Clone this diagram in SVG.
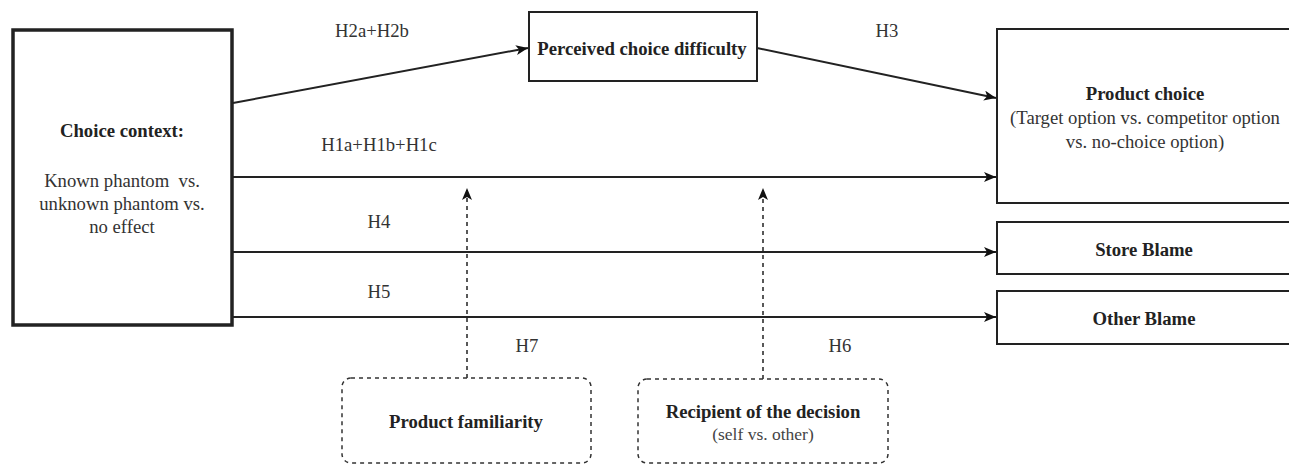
<svg xmlns="http://www.w3.org/2000/svg" width="1289" height="465" viewBox="0 0 1289 465">
<style>
  .box{fill:#fff;stroke:#222;stroke-width:2}
  .thick{fill:#fff;stroke:#222;stroke-width:3.5}
  .dbox{fill:#fff;stroke:#333;stroke-width:1.5;stroke-dasharray:4 4}
  text{font-family:'Liberation Serif',Tinos,'Times New Roman',Times,serif;font-size:18.7px;fill:#333;text-anchor:middle}
  .b{font-weight:bold;fill:#222}
  .s{font-size:17.5px;fill:#444}
  .edge{stroke:#222;stroke-width:2;fill:none}
  .dash{stroke:#222;stroke-width:1.5;fill:none;stroke-dasharray:4 4}
</style>
<defs>
  <marker id="arr" markerUnits="userSpaceOnUse" markerWidth="14" markerHeight="12" refX="12" refY="5" orient="auto">
    <path d="M0,0 L12,5 L0,10 L3,5 z" fill="#111"/>
  </marker>
</defs>
<rect width="1289" height="465" fill="#fff"/>
<g id="connectors">
  <line class="edge" x1="233" y1="103" x2="528" y2="48" marker-end="url(#arr)"/>
  <line class="edge" x1="757" y1="48" x2="996" y2="98" marker-end="url(#arr)"/>
  <line class="edge" x1="233" y1="177" x2="996" y2="177" marker-end="url(#arr)"/>
  <line class="edge" x1="233" y1="252" x2="996" y2="252" marker-end="url(#arr)"/>
  <line class="edge" x1="233" y1="317" x2="996" y2="317" marker-end="url(#arr)"/>
  <line class="dash" x1="467" y1="378" x2="467" y2="188" marker-end="url(#arr)"/>
  <line class="dash" x1="763" y1="379" x2="763" y2="188" marker-end="url(#arr)"/>
  <text x="372" y="37">H2a+H2b</text>
  <text x="887" y="37">H3</text>
  <text x="379" y="151">H1a+H1b+H1c</text>
  <text x="379" y="228">H4</text>
  <text x="379" y="298">H5</text>
  <text x="527" y="352">H7</text>
  <text x="840" y="352">H6</text>
</g>
<g id="choice-context">
  <rect class="thick" x="13" y="30" width="219" height="295"/>
  <text class="b" x="122" y="137">Choice context:</text>
  <text x="122" y="187" xml:space="preserve">Known phantom  vs.</text>
  <text x="122" y="210">unknown phantom vs.</text>
  <text x="122" y="233">no effect</text>
</g>
<g id="perceived-difficulty">
  <rect class="box" x="529" y="12" width="228" height="69"/>
  <text class="b" x="642" y="55">Perceived choice difficulty</text>
</g>
<g id="product-choice">
  <rect class="box" x="997" y="29" width="300" height="174"/>
  <text class="b" x="1145" y="100">Product choice</text>
  <text x="1145" y="124">(Target option vs. competitor option</text>
  <text x="1145" y="148">vs. no-choice option)</text>
</g>
<g id="store-blame">
  <rect class="box" x="997" y="222" width="300" height="52"/>
  <text class="b" x="1144" y="256">Store Blame</text>
</g>
<g id="other-blame">
  <rect class="box" x="997" y="291" width="300" height="53"/>
  <text class="b" x="1144" y="325">Other Blame</text>
</g>
<g id="product-familiarity">
  <rect class="dbox" x="342" y="378" width="249" height="85" rx="9"/>
  <text class="b" x="466" y="428">Product familiarity</text>
</g>
<g id="recipient">
  <rect class="dbox" x="638" y="379" width="250" height="84" rx="9"/>
  <text class="b" x="763" y="418">Recipient of the decision</text>
  <text class="s" x="763" y="440">(self vs. other)</text>
</g>
</svg>
